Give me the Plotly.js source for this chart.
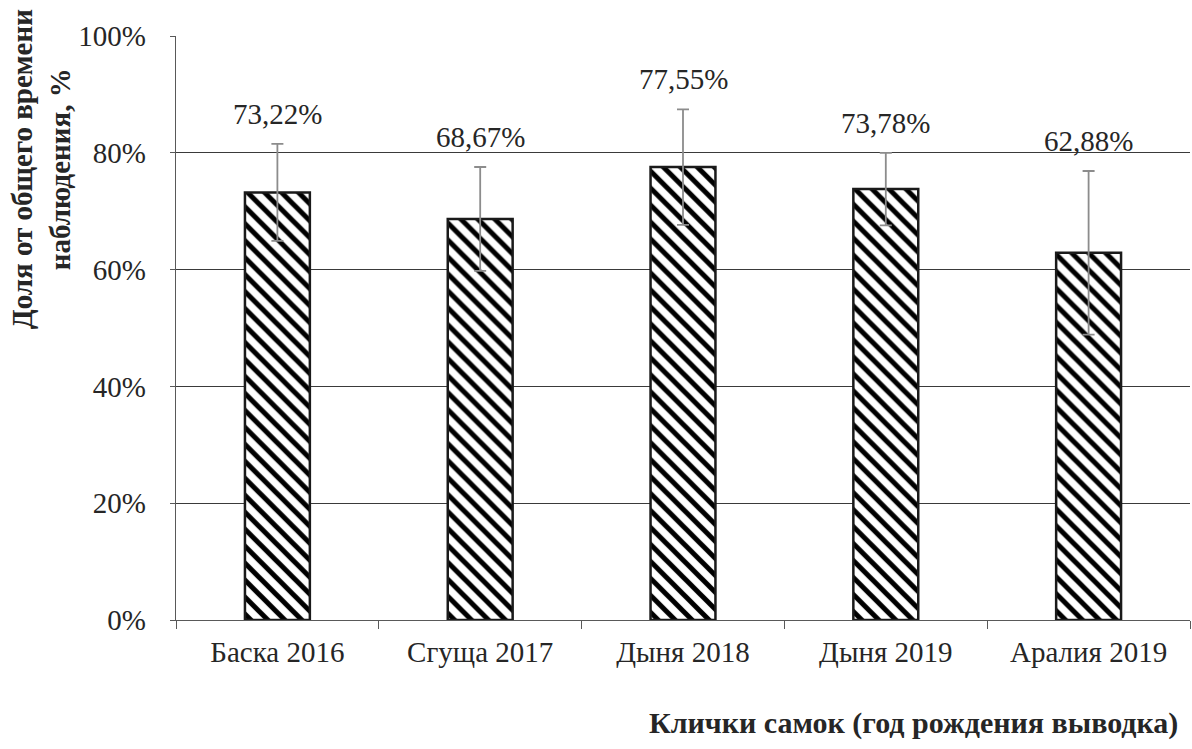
<!DOCTYPE html>
<html>
<head>
<meta charset="utf-8">
<script src="https://cdn.plot.ly/plotly-3.0.1.min.js"></script>
<style>html,body{margin:0;padding:0;background:#fff;}#chart{width:1192px;height:749px;}</style>
</head>
<body>
<div id="chart"></div>
<script>
const categories = ['Баска 2016', 'Сгуща 2017', 'Дыня 2018', 'Дыня 2019', 'Аралия 2019'];
const values = [73.22, 68.67, 77.55, 73.78, 62.88];
const errors = [8.3, 8.9, 9.9, 6.2, 14.0];
const valueLabels = ['73,22%', '68,67%', '77,55%', '73,78%', '62,88%'];
const yTickVals = [0, 20, 40, 60, 80, 100];
const yTickText = ['0%', '20%', '40%', '60%', '80%', '100%'];
const yTitle = 'Доля от общего времени<br>наблюдения, %';
const xTitle = 'Клички самок (год рождения выводка)';

const serif = 'Liberation Serif';
const textColor = '#262626';

const trace = {
  type: 'bar',
  x: categories,
  y: values,
  width: 0.32,
  marker: {
    color: '#000000',
    line: {color: '#1a1a1a', width: 2.5},
    pattern: {shape: '\\', bgcolor: '#ffffff', fgcolor: '#000000', size: 12, solidity: 0.42, fillmode: 'replace'}
  },
  error_y: {type: 'data', array: errors, visible: true, color: '#8c8c8c', thickness: 1.8, width: 6},
  hoverinfo: 'skip'
};

const annotations = categories.map((c, i) => ({
  x: c, y: values[i] + errors[i], xref: 'x', yref: 'y',
  text: valueLabels[i], showarrow: false, yanchor: 'middle', yshift: 30,
  font: {family: serif, size: 29, color: textColor}
}));
annotations.push({
  xref: 'paper', yref: 'paper', x: -0.133, y: 0.772, xanchor: 'center', yanchor: 'middle',
  text: '<b>' + yTitle + '</b>', textangle: -90, showarrow: false, align: 'center',
  font: {family: serif, size: 29, color: textColor}
});
annotations.push({
  xref: 'paper', yref: 'paper', x: 0.990, y: -0.176, xanchor: 'right', yanchor: 'middle',
  text: '<b>' + xTitle + '</b>', showarrow: false,
  font: {family: serif, size: 30, color: textColor}
});

const layout = {
  width: 1192, height: 749,
  margin: {l: 176, r: 2, t: 36, b: 129},
  paper_bgcolor: '#ffffff', plot_bgcolor: '#ffffff',
  showlegend: false,
  xaxis: {
    type: 'category',
    showline: true, linecolor: '#595959', linewidth: 1.3,
    ticks: 'outside', tickson: 'boundaries', ticklen: 8, tickcolor: '#595959',
    tickfont: {family: serif, size: 29, color: textColor},
    showgrid: false, zeroline: false, ticklabelstandoff: 6
  },
  yaxis: {
    range: [0, 100], tickvals: yTickVals, ticktext: yTickText,
    showline: true, linecolor: '#595959', linewidth: 1.3,
    ticks: 'outside', ticklen: 5, tickcolor: '#595959',
    tickfont: {family: serif, size: 29, color: textColor},
    showgrid: true, gridcolor: '#3a3a3a', gridwidth: 1.2,
    zeroline: false, ticklabelstandoff: 18
  },
  annotations: annotations
};

Plotly.newPlot('chart', [trace], layout, {displayModeBar: false, staticPlot: true});
</script>
</body>
</html>
